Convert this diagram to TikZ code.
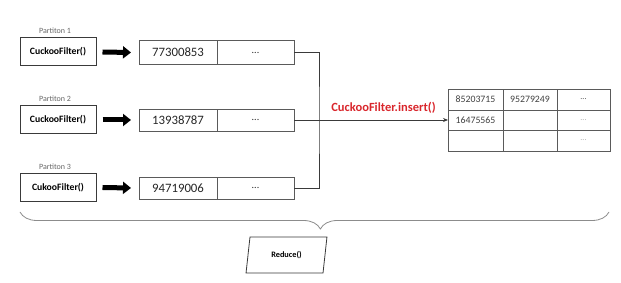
\documentclass[tikz,border=0pt]{standalone}
\usepackage{fontspec}
\setmainfont{Carlito}
\usepackage{tikz}
\usetikzlibrary{positioning}
\usetikzlibrary{arrows.meta}
\usetikzlibrary{shapes.geometric}
\usetikzlibrary{decorations.pathreplacing}
\definecolor{boxline}{HTML}{3A3A3A}
\definecolor{cellline}{HTML}{5A5A5A}
\definecolor{insertred}{HTML}{D9262C}
\tikzstyle{filter} = [draw=boxline, line width=1pt, minimum width=76pt, minimum height=28pt, inner sep=0pt, font=\fontsize{9.7}{10}\selectfont\bfseries]
\tikzstyle{part} = [text=black!60, font=\fontsize{8}{9}\selectfont]
\tikzstyle{cell} = [draw=cellline, line width=0.7pt, minimum height=24pt, inner sep=0pt, outer sep=0pt, font=\fontsize{12.8}{13}\selectfont, text=black!85]
\tikzstyle{tcell} = [draw=cellline, line width=0.7pt, inner sep=0pt, outer sep=0pt, font=\fontsize{9.8}{10}\selectfont, text=black!75]
\tikzstyle{bigarrow} = [line width=5pt, -{Triangle[length=8pt,width=12pt]}]
\tikzstyle{wire} = [draw=boxline, line width=0.8pt]

\begin{document}
\begin{tikzpicture}[x=1pt,y=-1pt]
	\useasboundingbox (0,0) rectangle (621,283);
	%\draw[help lines,step=20] (0,0) grid (621,283);

	% partitions
	\node [part] at (55,31) {Partiton 1};
	\node [part] at (55,99) {Partiton 2};
	\node [part] at (55,167) {Partiton 3};
	\node [filter] (cf1) at (58,52) {CuckooFilter()};
	\node [filter] (cf2) at (58,120) {CuckooFilter()};
	\node [filter] (cf3) at (58,187.5) {CukooFilter()};

	% values per partition
	\node [cell, minimum width=78pt] (v1) at (178,52.5) {77300853};
	\node [cell, minimum width=77pt, right=0pt of v1] (e1) {\fontsize{10}{10}\selectfont ...};
	\node [cell, minimum width=78pt, minimum height=22pt] (v2) at (178,120) {13938787};
	\node [cell, minimum width=77pt, minimum height=22pt, right=0pt of v2] (e2) {\fontsize{10}{10}\selectfont ...};
	\node [cell, minimum width=78pt, minimum height=22pt] (v3) at (178,188) {94719006};
	\node [cell, minimum width=77pt, minimum height=22pt, right=0pt of v3] (e3) {\fontsize{10}{10}\selectfont ...};

	\draw [bigarrow] ([xshift=6pt]cf1.east) -- ([xshift=-8pt]v1.west);
	\draw [bigarrow] ([xshift=6pt]cf2.east) -- ([xshift=-8pt]v2.west);
	\draw [bigarrow] ([xshift=6pt]cf3.east) -- ([xshift=-8pt]v3.west);

	% merged filter table
	\node [tcell, minimum width=55pt, minimum height=21pt] (t11) at (475.5,99.5) {85203715};
	\node [tcell, minimum width=54pt, minimum height=21pt, right=0pt of t11] (t12) {95279249};
	\node [tcell, minimum width=53pt, minimum height=21pt, right=0pt of t12] (t13) {\fontsize{8}{8}\selectfont ...};
	\node [tcell, minimum width=55pt, minimum height=20pt, below=0pt of t11] (t21) {16475565};
	\node [tcell, minimum width=54pt, minimum height=20pt, right=0pt of t21] (t22) {};
	\node [tcell, minimum width=53pt, minimum height=20pt, right=0pt of t22, text=black!35] (t23) {\fontsize{8}{8}\selectfont ...};
	\node [tcell, minimum width=55pt, minimum height=21pt, below=0pt of t21] (t31) {};
	\node [tcell, minimum width=54pt, minimum height=21pt, right=0pt of t31] (t32) {};
	\node [tcell, minimum width=53pt, minimum height=21pt, right=0pt of t32, text=black!35] (t33) {\fontsize{8}{8}\selectfont ...};

	% insert path
	\coordinate (bus) at (319,120);
	\draw [wire] (e1.east) -| (bus) |- (e3.east);
	\draw [wire] (e2.east) -- (bus);
	\draw [wire, -{Stealth[length=5pt,width=4pt]}] (bus) -- node [above=2.5pt, text=insertred, font=\fontsize{12.5}{13}\selectfont\bfseries] (ins) {CuckooFilter.insert()} (t21.west);

	% reduce step
	\draw [draw=black!45, line width=0.8pt, decorate, decoration={brace, mirror, amplitude=17pt, aspect=0.51}] (20,212) -- (609,212);
	\node [draw=boxline, line width=0.8pt, trapezium, trapezium left angle=77.5, trapezium right angle=102.5, trapezium stretches=true, minimum width=81pt, minimum height=36pt, inner sep=0pt, font=\fontsize{8.3}{9}\selectfont\bfseries] (red) at (286.5,255) {Reduce()};
\end{tikzpicture}
\end{document}
